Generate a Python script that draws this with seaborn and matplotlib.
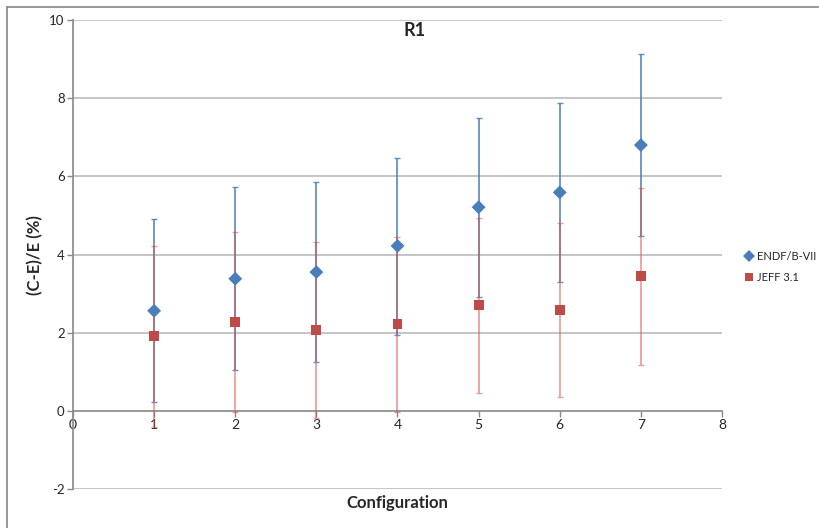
import matplotlib
matplotlib.use("Agg")
import matplotlib.pyplot as plt
import seaborn as sns
import numpy as np
import pandas as pd

# data
configs = [1, 2, 3, 4, 5, 6, 7]
endf_vals = [2.56, 3.38, 3.55, 4.22, 5.21, 5.59, 6.80]
endf_low = [0.22, 1.04, 1.26, 1.95, 2.92, 3.30, 4.47]
endf_high = [4.90, 5.73, 5.85, 6.48, 7.49, 7.88, 9.13]
jeff_vals = [1.91, 2.28, 2.07, 2.22, 2.71, 2.58, 3.44]
jeff_low = [-0.41, -0.04, -0.18, -0.02, 0.46, 0.36, 1.18]
jeff_high = [4.23, 4.58, 4.33, 4.46, 4.94, 4.81, 5.70]
y_ticks = [-2, 0, 2, 4, 6, 8, 10]
x_ticks = [0, 1, 2, 3, 4, 5, 6, 7, 8]

sns.set_style("white")
plt.rcParams['font.family'] = ['Lato', 'DejaVu Sans']

blue = "#4A7EBB"
red = "#BE4B48"

df = pd.DataFrame({
    "Configuration": configs * 2,
    "value": endf_vals + jeff_vals,
    "series": ["ENDF/B-VII"] * 7 + ["JEFF 3.1"] * 7,
})

fig = plt.figure(figsize=(8.2, 5.28), dpi=100)
ax = fig.add_axes([73 / 820, 39 / 528, 649 / 820, 469 / 528])

# gridlines
for y in y_ticks:
    if y != 0:
        ax.axhline(y, color="#BBBBBB", lw=1.2, zorder=0)

# error bars
e_lo = np.array(endf_vals) - np.array(endf_low)
e_hi = np.array(endf_high) - np.array(endf_vals)
ax.errorbar(configs, endf_vals, yerr=[e_lo, e_hi], fmt="none", ecolor=blue,
            elinewidth=1.3, capsize=2.5, capthick=1, alpha=0.85, zorder=2)
j_lo = np.array(jeff_vals) - np.array(jeff_low)
j_hi = np.array(jeff_high) - np.array(jeff_vals)
ax.errorbar(configs, jeff_vals, yerr=[j_lo, j_hi], fmt="none", ecolor="#D9534F",
            elinewidth=1.3, capsize=2.5, capthick=1, alpha=0.55, zorder=3)

sns.scatterplot(data=df, x="Configuration", y="value", hue="series", style="series",
                markers={"ENDF/B-VII": "D", "JEFF 3.1": "s"},
                palette={"ENDF/B-VII": blue, "JEFF 3.1": red},
                s=50, linewidth=0, ax=ax, zorder=4)

ax.set_xlim(0, 8)
ax.set_ylim(-2, 10)
ax.set_xticks(x_ticks)
ax.set_yticks(y_ticks)
ax.set_xticklabels([str(v) for v in x_ticks], fontsize=9.5)
ax.set_yticklabels([str(v) for v in y_ticks], fontsize=9.5)
ax.spines['bottom'].set_position(('data', 0))
ax.spines['top'].set_visible(False)
ax.spines['right'].set_visible(False)
for s in ['bottom', 'left']:
    ax.spines[s].set_color("#888888")
    ax.spines[s].set_linewidth(1.2)
ax.tick_params(axis='both', direction='out', length=4, color="#888888", width=1,
               pad=2, bottom=True, left=True)
ax.set_xlabel("")
ax.set_ylabel("")

fig.text(415 / 820, 1 - 31 / 528, "R1", fontsize=13, fontweight="bold",
         ha="center", va="center")
fig.text(397 / 820, 1 - 503 / 528, "Configuration", fontsize=12, fontweight="bold",
         ha="center", va="center")
fig.text(35 / 820, 1 - 255 / 528, "(C-E)/E (%)", fontsize=12, fontweight="bold",
         ha="center", va="center", rotation=90)

handles, labels = ax.get_legend_handles_labels()
ax.legend(handles, labels, loc="center left", bbox_to_anchor=(738 / 820, 1 - 267 / 528),
          bbox_transform=fig.transFigure, frameon=False, fontsize=8,
          handletextpad=-0.3, markerscale=0.85, labelspacing=0.9,
          borderpad=0, borderaxespad=0)

# chart-area border (left and top only, the rest is off the picture)
fig.add_artist(plt.Line2D([7 / 820, 7 / 820], [0, 1 - 7 / 528],
                          transform=fig.transFigure, color="#888888", lw=1.2))
fig.add_artist(plt.Line2D([7 / 820, 1], [1 - 7 / 528, 1 - 7 / 528],
                          transform=fig.transFigure, color="#888888", lw=1.2))

fig.savefig("out.png", dpi=100)
